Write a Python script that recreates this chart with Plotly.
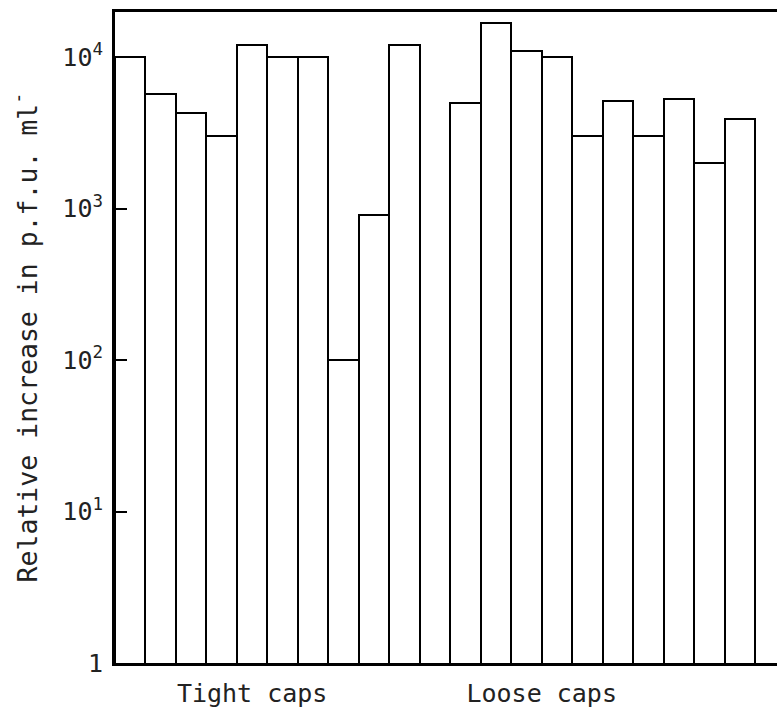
import plotly.graph_objects as go

# Data
tight_caps = [10000, 5700, 4300, 3000, 12000, 10000, 10000, 100, 900, 12000]
loose_caps = [5000, 16700, 11000, 10000, 3000, 5100, 3000, 5300, 2000, 3900]
group_labels = ["Tight caps", "Loose caps"]
y_tick_vals = [1, 10, 100, 1000, 10000]
y_tick_text = ["1", "10<sup>1</sup>", "10<sup>2</sup>", "10<sup>3</sup>", "10<sup>4</sup>"]

FONT = "DejaVu Sans Mono"

x_tight = list(range(len(tight_caps)))
x_loose = [len(tight_caps) + 1 + i for i in range(len(loose_caps))]

fig = go.Figure()
fig.add_trace(go.Bar(x=x_tight + x_loose, y=tight_caps + loose_caps, width=1.0,
                     marker=dict(color="white", line=dict(color="black", width=2)),
                     showlegend=False))

fig.update_layout(
    width=777, height=717,
    margin=dict(l=115, r=0, t=12, b=54),
    paper_bgcolor="white", plot_bgcolor="white",
    bargap=0,
    font=dict(family=FONT, color="#222222", size=25),
    xaxis=dict(range=[-0.5, 21.22], showgrid=False, zeroline=False,
               showline=True, linecolor="black", linewidth=3, mirror=True,
               tickvals=[4, 13.5], ticktext=group_labels, ticks="",
               ticklabelstandoff=6,
               tickfont=dict(size=25, family=FONT)),
    yaxis=dict(type="log", range=[0, 4.297], showgrid=False, zeroline=False,
               showline=True, linecolor="black", linewidth=3,
               tickvals=y_tick_vals, ticktext=y_tick_text,
               ticks="inside", ticklen=12, tickwidth=2, tickcolor="black",
               ticklabelstandoff=4,
               tickfont=dict(size=25, family=FONT),
               title=dict(text="Relative increase in p.f.u. ml<sup>-</sup>",
                          font=dict(size=26.5, family=FONT), standoff=18)),
)

fig.write_html("out.html")
